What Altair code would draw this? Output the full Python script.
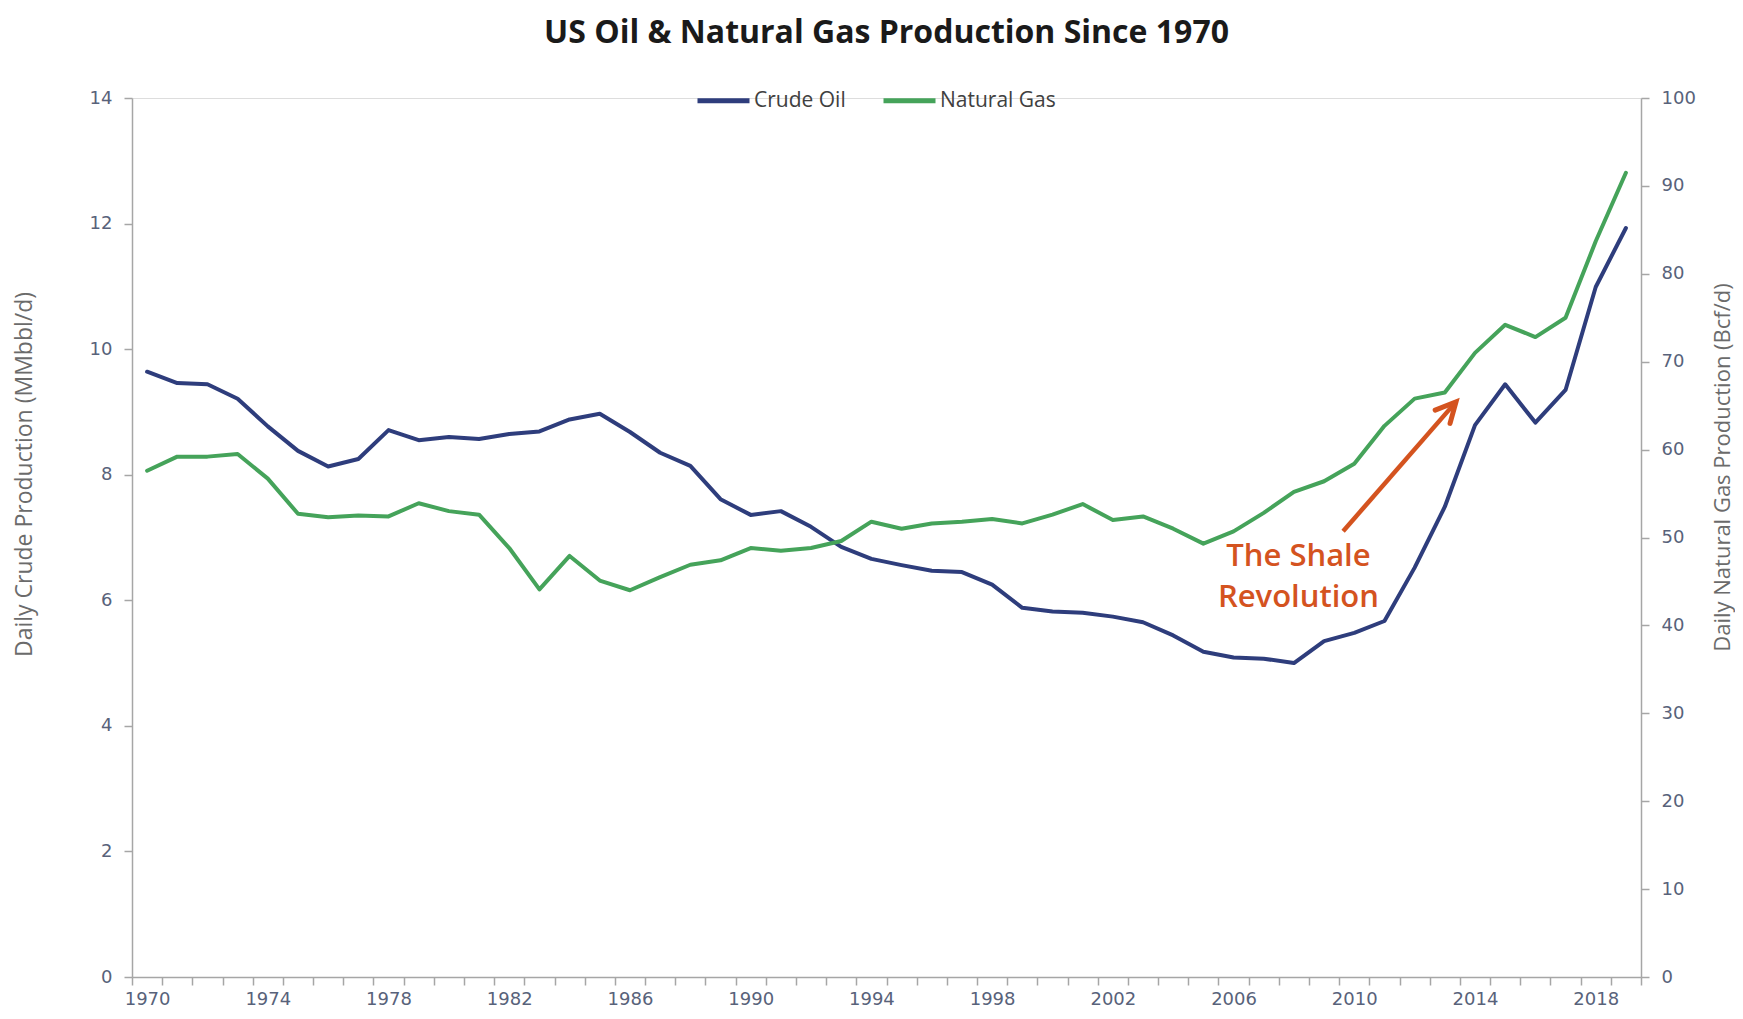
import altair as alt
import pandas as pd

years = list(range(1970, 2020))
crude_oil = [9.64, 9.46, 9.44, 9.21, 8.77, 8.38, 8.13, 8.25, 8.71, 8.55,
             8.60, 8.57, 8.65, 8.69, 8.88, 8.97, 8.68, 8.35, 8.14, 7.61,
             7.36, 7.42, 7.17, 6.85, 6.66, 6.56, 6.47, 6.45, 6.25, 5.88,
             5.82, 5.80, 5.74, 5.65, 5.44, 5.18, 5.09, 5.07, 5.00, 5.35,
             5.48, 5.67, 6.52, 7.49, 8.79, 9.44, 8.83, 9.35, 10.99, 11.93]
natural_gas = [57.6, 59.2, 59.2, 59.5, 56.7, 52.7, 52.3, 52.5, 52.4, 53.9,
               53.0, 52.6, 48.8, 44.1, 47.9, 45.1, 44.0, 45.5, 46.9, 47.4,
               48.8, 48.5, 48.8, 49.6, 51.8, 51.0, 51.6, 51.8, 52.1, 51.6,
               52.6, 53.8, 52.0, 52.4, 51.0, 49.3, 50.7, 52.8, 55.2, 56.4,
               58.4, 62.7, 65.8, 66.5, 71.0, 74.2, 72.8, 75.0, 83.7, 91.5]

series_names = ["Crude Oil", "Natural Gas"]
series_colors = ["#2E3D7C", "#45A35A"]

x_tick_values = [y - 0.5 for y in range(1970, 2021)]
left_ticks = [0, 2, 4, 6, 8, 10, 12, 14]
right_ticks = [0, 10, 20, 30, 40, 50, 60, 70, 80, 90, 100]

# annotation (in data units: year, crude-oil axis)
ann_text = ["The Shale", "Revolution"]
ann_x = [2008.15, 2008.15]
ann_y = [6.69, 6.04]
arrow_x1 = [2009.63]
arrow_y1 = [7.10]
arrow_x2 = [2013.37]
arrow_y2 = [9.16]

df = pd.DataFrame({"year": years, "oil": crude_oil, "gas": natural_gas})
ann_df = pd.DataFrame({"x": ann_x, "y": ann_y, "t": ann_text})
arrow_df = pd.DataFrame({"x1": arrow_x1, "y1": arrow_y1, "x2": arrow_x2, "y2": arrow_y2})

AX = "#A6A6A6"
LBL = "#58627A"
TTL = "#6B6B6B"
ORANGE = "#D4531F"

x_scale = alt.Scale(domain=[1969.5, 2019.5], nice=False, zero=False)
x_axis = alt.Axis(
    values=x_tick_values,
    labelExpr="((datum.value - 0.5 - 1970) % 4 == 0) ? toString(datum.value - 0.5) : ''",
    labelOffset=-15.1, labelOverlap=False, labelFlush=False, labelBound=False,
    title=None, grid=False, domainColor=AX, domainWidth=1.5, tickColor=AX,
    tickWidth=1.5, tickSize=8, labelFont="DejaVu Sans", labelFontSize=18,
    labelColor=LBL, labelPadding=5,
)
left_scale = alt.Scale(domain=[0, 14], nice=False, zero=True)
left_axis = alt.Axis(
    orient="left", values=left_ticks, title="Daily Crude Production (MMbbl/d)",
    grid=False, domainColor=AX, domainWidth=1.5, tickColor=AX, tickWidth=1.5,
    tickSize=8, labelFont="DejaVu Sans", labelFontSize=18, labelColor=LBL,
    labelPadding=12, titleFont="Open Sans", titleFontSize=23, titleColor=TTL,
    titleFontWeight="normal", titleAngle=-90, titleX=-108, titleY=376,
    titleBaseline="middle", titleAlign="center",
)
right_axis = alt.Axis(
    orient="right", values=right_ticks, title="Daily Natural Gas Production  (Bcf/d)",
    grid=False, domainColor=AX, domainWidth=1.5, tickColor=AX, tickWidth=1.5,
    tickSize=8, labelFont="DejaVu Sans", labelFontSize=18, labelColor=LBL,
    labelPadding=12, titleFont="Open Sans", titleFontSize=22, titleColor=TTL,
    titleFontWeight="normal", titleAngle=-90, titleX=81, titleY=369,
    titleBaseline="middle", titleAlign="center",
)

color_scale = alt.Scale(domain=series_names, range=series_colors)
legend = alt.Legend(
    orient="none", legendX=563, legendY=-26, direction="horizontal", title=None,
    symbolType="stroke", symbolSize=2704, symbolStrokeWidth=5,
    labelFont="Open Sans", labelFontSize=21, labelColor="#404040",
    labelOffset=2, columnPadding=27,
)

base = alt.Chart(df)
X = alt.X("year:Q", scale=x_scale, axis=x_axis)
Y_LEFT = lambda f: alt.Y(f, scale=left_scale, axis=left_axis)

oil_line = base.transform_calculate(series="'Crude Oil'").mark_line(
    strokeWidth=4, strokeJoin="round", strokeCap="round"
).encode(
    x=X, y=Y_LEFT("oil:Q"),
    color=alt.Color("series:N", scale=color_scale, legend=legend),
)

ann = alt.Chart(ann_df).mark_text(
    font="Open Sans", fontSize=31, fontWeight=600, color=ORANGE,
    align="center", baseline="middle",
).encode(x=alt.X("x:Q", scale=x_scale, axis=x_axis), y=Y_LEFT("y:Q"), text="t:N")

arrow = alt.Chart(arrow_df).mark_rule(color=ORANGE, strokeWidth=4.5).encode(
    x=alt.X("x1:Q", scale=x_scale, axis=x_axis), x2="x2:Q",
    y=Y_LEFT("y1:Q"), y2="y2:Q",
)
head = alt.Chart(arrow_df).mark_point(
    shape="M-0.5,1L0,0L0.5,1", filled=False, size=1600, angle=42,
    color=ORANGE, strokeWidth=5, strokeJoin="miter", strokeCap="round", opacity=1,
).encode(x=alt.X("x2:Q", scale=x_scale, axis=x_axis), y=Y_LEFT("y2:Q"))

left_group = alt.layer(oil_line, arrow, head, ann)

gas_line = base.transform_calculate(series="'Natural Gas'").mark_line(
    strokeWidth=4, strokeJoin="round", strokeCap="round"
).encode(
    x=X, y=alt.Y("gas:Q", scale=alt.Scale(domain=[0, 100], nice=False), axis=right_axis),
    color=alt.Color("series:N", scale=color_scale, legend=legend),
)

chart = alt.layer(left_group, gas_line).resolve_scale(y="independent").properties(
    width=1509, height=879,
    title=alt.TitleParams(
        text="US Oil & Natural Gas Production Since 1970", font="Open Sans",
        fontSize=32, fontWeight="bold", color="#1A1A1A", anchor="middle",
        frame="group", offset=22,
    ),
    padding={"left": 124, "top": 90, "right": 94, "bottom": 30},
    autosize=alt.AutoSizeParams(type="none"),
).configure_view(stroke=None).configure(background="white")

chart.save("out.html", embed_options={"renderer": "svg", "actions": False})
